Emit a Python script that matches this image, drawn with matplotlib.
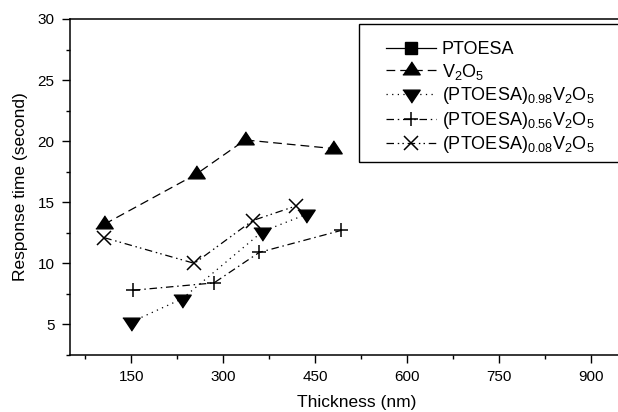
import matplotlib
matplotlib.use("Agg")
import matplotlib.pyplot as plt
from matplotlib.patches import Rectangle
from matplotlib.ticker import MultipleLocator

plt.rcParams['font.family'] = ['Liberation Sans', 'DejaVu Sans']
plt.rcParams['mathtext.fontset'] = 'custom'
plt.rcParams['mathtext.rm'] = 'Liberation Sans'

# Thickness (nm) and response time (s) for each film
ptoesa_x = []
ptoesa_y = []
v2o5_x = [106, 256, 336, 479]
v2o5_y = [13.2, 17.3, 20.1, 19.4]
p098_x = [150, 233, 364, 435]
p098_y = [5.2, 7.1, 12.6, 14.0]
p056_x = [153, 285, 359, 493]
p056_y = [7.8, 8.4, 10.9, 12.7]
p008_x = [106, 253, 348, 419]
p008_y = [12.1, 10.0, 13.5, 14.7]

labels = [
    'PTOESA',
    r'V$\mathregular{_2}$O$\mathregular{_5}$',
    r'(PTOESA)$\mathregular{_{0.98}}$V$\mathregular{_2}$O$\mathregular{_5}$',
    r'(PTOESA)$\mathregular{_{0.56}}$V$\mathregular{_2}$O$\mathregular{_5}$',
    r'(PTOESA)$\mathregular{_{0.08}}$V$\mathregular{_2}$O$\mathregular{_5}$',
]

tri_up = [(-1, -0.5), (1, -0.5), (0, 1.0)]
tri_down = [(-1, 0.5), (1, 0.5), (0, -1.0)]

W, H = 618, 412
fig = plt.figure(figsize=(W / 100, H / 100), dpi=100)
ax = fig.add_axes([70 / W, 1 - 355 / H, 582 / W, 336 / H])

lw = 0.9
ax.plot(ptoesa_x, ptoesa_y, color='black', lw=lw, ls='-', marker='s', ms=8,
        label=labels[0])
ax.plot(v2o5_x, v2o5_y, color='black', lw=lw, ls=(0, (7, 4)), marker=tri_up,
        ms=12.5, label=labels[1])
ax.plot(p098_x, p098_y, color='black', lw=lw, ls=(0, (1, 3.5)), marker=tri_down,
        ms=12.5, label=labels[2])
ax.plot(p056_x, p056_y, color='black', lw=lw, ls=(0, (6, 3, 1.2, 3)), marker='+',
        ms=10, mew=1.1, label=labels[3])
ax.plot(p008_x, p008_y, color='black', lw=lw, ls=(0, (6, 3, 1.2, 2.5, 1.2, 3)),
        marker='x', ms=9.5, mew=1.1, label=labels[4])

ax.set_xlim(50, 1000)
ax.set_ylim(2.5, 30)
ax.xaxis.set_major_locator(MultipleLocator(150))
ax.xaxis.set_minor_locator(MultipleLocator(75))
ax.yaxis.set_major_locator(MultipleLocator(5))
ax.yaxis.set_minor_locator(MultipleLocator(2.5))
ax.tick_params(which='major', direction='out', length=5.5, width=1, labelsize=11,
               pad=5.5)
ax.tick_params(which='minor', direction='out', length=3, width=1)
for s in ax.spines.values():
    s.set_linewidth(1.1)

ax.set_xlabel('Thickness (nm)', fontsize=12.5)
ax.set_ylabel('Response time (second)', fontsize=12.5)
ax.xaxis.set_label_coords((357 - 70) / 582, -(395 - 355) / 336)
ax.yaxis.set_label_coords(-(70 - 28) / 582, 0.5)

# Legend entries without their own frame; the box is drawn separately
leg = ax.legend(loc='upper left',
                bbox_to_anchor=(386 / W, 1 - 41 / H),
                bbox_transform=fig.transFigure,
                fontsize=13, frameon=False, borderpad=0,
                handlelength=2.75, handletextpad=0.33, labelspacing=0.2,
                borderaxespad=0)
fig.add_artist(Rectangle((359 / W, 1 - 162 / H), 300 / W, 138 / H,
                         transform=fig.transFigure, fill=False,
                         edgecolor='black', linewidth=1.0))

fig.savefig('out.png', dpi=100)
